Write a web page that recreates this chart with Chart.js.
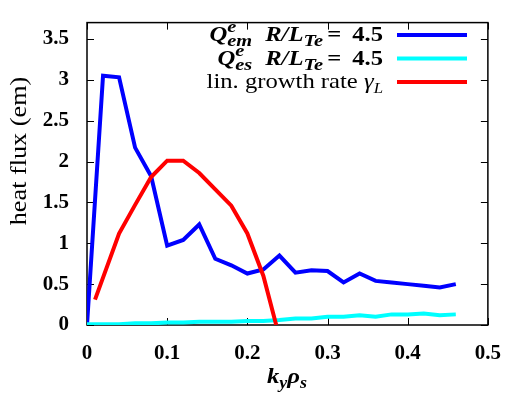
<!DOCTYPE html>
<html>
<head>
<meta charset="utf-8">
<script src="https://cdn.jsdelivr.net/npm/chart.js@4"></script>
<style>
  html, body { margin: 0; padding: 0; background: #fff; }
</style>
</head>
<body>
<canvas id="chart1" width="509" height="397"></canvas>
<script>
// ky grid of the nonlinear runs
const kyGrid = [0, 0.02, 0.04, 0.06, 0.08, 0.10, 0.12, 0.14, 0.16, 0.18, 0.20, 0.22,
                0.24, 0.26, 0.28, 0.30, 0.32, 0.34, 0.36, 0.38, 0.40, 0.42, 0.44, 0.46];
// electromagnetic electron heat flux
const qEm = [0, 3.05, 3.03, 2.17, 1.82, 0.97, 1.04, 1.23, 0.81, 0.73, 0.63, 0.68,
             0.85, 0.64, 0.67, 0.66, 0.52, 0.63, 0.54, 0.52, 0.50, 0.48, 0.46, 0.50];
// electrostatic electron heat flux
const qEs = [0.01, 0.01, 0.01, 0.02, 0.02, 0.03, 0.03, 0.04, 0.04, 0.04, 0.05, 0.05,
             0.06, 0.08, 0.08, 0.10, 0.10, 0.12, 0.10, 0.13, 0.13, 0.14, 0.12, 0.13];
// linear growth rate
const kyLin = [0.01, 0.04, 0.06, 0.08, 0.10, 0.12, 0.14, 0.16, 0.18, 0.20, 0.22, 0.236];
const gammaL = [0.31, 1.12, 1.47, 1.81, 2.01, 2.01, 1.86, 1.66, 1.46, 1.12, 0.60, 0];

const xTicks = [0, 0.1, 0.2, 0.3, 0.4, 0.5];
const yTicks = [0, 0.5, 1, 1.5, 2, 2.5, 3, 3.5];

const seriesLabels = ['Q_em^e R/L_Te = 4.5', 'Q_es^e R/L_Te = 4.5', 'lin. growth rate γ_L'];
const seriesColors = ['#0000ff', '#00ffff', '#ff0000'];

const yTitle = 'heat flux (em)';

const serif = '"Liberation Serif", "Times New Roman", serif';
const f = (style, size) => style + ' ' + size + 'px ' + serif;
const SX = 1.12; // widen Times a little, closer to the latex font

function toPoints(xs, ys) {
    return xs.map((x, i) => ({ x: x, y: ys[i] }));
}

// --- rich text helpers (sub/superscripts) ---
function runWidth(ctx, r) {
    if (r.gap) return r.gap;
    ctx.font = r.font;
    const sx = r.sx || SX;
    if (r.sup !== undefined) {
        return Math.max(ctx.measureText(r.sup).width, ctx.measureText(r.sub).width) * sx;
    }
    return ctx.measureText(r.text).width * sx;
}

function drawText(ctx, t, font, x, y, sx) {
    ctx.save();
    ctx.font = font;
    ctx.translate(x, y);
    ctx.scale(sx, 1);
    ctx.fillText(t, 0, 0);
    ctx.restore();
}

function drawRuns(ctx, runs, x, y, align) {
    let w = 0;
    runs.forEach(r => { r.w = runWidth(ctx, r); w += r.w; });
    let cx = align === 'right' ? x - w : (align === 'center' ? x - w / 2 : x);
    runs.forEach(r => {
        const sx = r.sx || SX;
        if (r.sup !== undefined) {
            drawText(ctx, r.sup, r.font, cx, y - 9, sx);
            drawText(ctx, r.sub, r.font, cx, y + 5, sx);
        } else if (r.text !== undefined) {
            drawText(ctx, r.text, r.font, cx, y + (r.dy || 0), sx);
        }
        cx += r.w;
    });
}

function qRow(sub) {
    return [
        { text: 'Q', font: f('bold italic', 22) },
        { sup: 'e', sub: sub, font: f('bold italic', 17), sx: 1.2 },
        { gap: 13 },
        { text: 'R/L', font: f('bold italic', 22) },
        { text: 'Te', font: f('bold italic', 17), dy: 5, sx: 1.2 },
        { gap: 4 },
        { text: '=', font: f('bold', 22) },
        { gap: 11 },
        { text: '4.5', font: f('bold', 22) }
    ];
}

const legendRows = [
    qRow('em'),
    qRow('es'),
    [
        { text: 'lin. growth rate ', font: f('', 22) },
        { text: 'γ', font: f('italic', 22) },
        { text: 'L', font: f('italic', 15), dy: 5 }
    ]
];

const xTitleRuns = [
    { text: 'k', font: f('bold italic', 22) },
    { text: 'y', font: f('bold italic', 16), dy: 5 },
    { text: 'ρ', font: f('bold italic', 22) },
    { text: 's', font: f('bold italic', 16), dy: 5 }
];

const framePlugin = {
    id: 'frame',
    beforeDatasetsDraw(chart) {
        const { ctx, chartArea: a, scales } = chart;
        ctx.save();
        ctx.strokeStyle = '#000';
        ctx.lineWidth = 1.5;
        ctx.strokeRect(a.left, a.top, a.right - a.left, a.bottom - a.top);
        ctx.lineWidth = 1;
        ctx.beginPath();
        xTicks.forEach(v => {
            const px = Math.round(scales.x.getPixelForValue(v)) + 0.5;
            ctx.moveTo(px, a.bottom); ctx.lineTo(px, a.bottom - 7);
            ctx.moveTo(px, a.top); ctx.lineTo(px, a.top + 7);
        });
        yTicks.forEach(v => {
            const py = Math.round(scales.y.getPixelForValue(v)) + 0.5;
            ctx.moveTo(a.left, py); ctx.lineTo(a.left + 7, py);
            ctx.moveTo(a.right, py); ctx.lineTo(a.right - 7, py);
        });
        ctx.stroke();
        ctx.restore();
    },
    afterDraw(chart) {
        const ctx = chart.ctx;
        ctx.save();
        ctx.fillStyle = '#000';
        ctx.textBaseline = 'alphabetic';
        // legend
        legendRows.forEach((runs, i) => {
            const ly = 35 + i * 23.5;
            drawRuns(ctx, runs, 383, ly + 6, 'right');
            ctx.strokeStyle = seriesColors[i];
            ctx.lineWidth = 4;
            ctx.beginPath();
            ctx.moveTo(397, ly);
            ctx.lineTo(467, ly);
            ctx.stroke();
        });
        // x title
        drawRuns(ctx, xTitleRuns, 287, 383, 'center');
        // y title
        ctx.translate(20, 151);
        ctx.rotate(-Math.PI / 2);
        ctx.textBaseline = 'middle';
        drawRuns(ctx, [{ text: yTitle, font: f('', 23), sx: 1.14 }], 0, 0, 'center');
        ctx.restore();
    }
};

const tickFont = { family: serif, size: 21, weight: 'bold' };

new Chart(document.getElementById('chart1').getContext('2d'), {
    type: 'line',
    data: {
        datasets: [
            { label: seriesLabels[0], data: toPoints(kyGrid, qEm), borderColor: seriesColors[0], order: 2 },
            { label: seriesLabels[1], data: toPoints(kyGrid, qEs), borderColor: seriesColors[1], order: 1 },
            { label: seriesLabels[2], data: toPoints(kyLin, gammaL), borderColor: seriesColors[2], order: 0 }
        ]
    },
    options: {
        responsive: false,
        animation: false,
        devicePixelRatio: 1,
        datasets: { line: { borderWidth: 4, pointRadius: 0, tension: 0, fill: false } },
        layout: { padding: { top: 6, right: 20, left: 0, bottom: 0 } },
        plugins: { legend: { display: false }, tooltip: { enabled: false } },
        scales: {
            x: {
                type: 'linear', min: 0, max: 0.5,
                afterBuildTicks: s => { s.ticks = xTicks.map(v => ({ value: v })); },
                afterFit: s => { s.height = 72; },
                grid: { display: false },
                border: { display: false },
                ticks: { padding: 8, color: '#000', font: tickFont, maxRotation: 0, autoSkip: false,
                         callback: v => String(+v.toFixed(2)) }
            },
            y: {
                min: 0, max: 3.7,
                afterBuildTicks: s => { s.ticks = yTicks.map(v => ({ value: v })); },
                afterFit: s => { s.width = 87; },
                grid: { display: false },
                border: { display: false },
                ticks: { padding: 10, color: '#000', font: tickFont, autoSkip: false,
                         callback: v => String(+v.toFixed(2)) }
            }
        }
    },
    plugins: [framePlugin]
});
</script>
</body>
</html>
